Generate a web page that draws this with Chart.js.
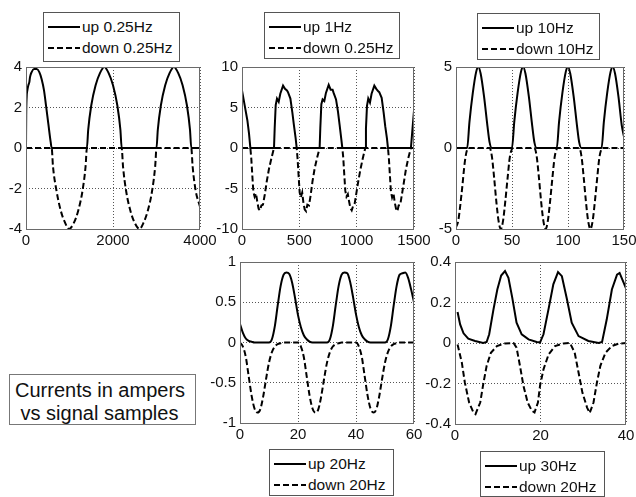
<!DOCTYPE html>
<html>
<head>
<meta charset="utf-8">
<script src="https://cdn.jsdelivr.net/npm/chart.js@4.4.0/dist/chart.umd.min.js"></script>
<style>
  html, body { margin: 0; padding: 0; background: #fff; }
  #page { position: relative; width: 636px; height: 497px; overflow: hidden; background: #fff; }
  canvas { position: absolute; left: -40px; top: 0; }
  .box { position: absolute; border: 1px solid #555; background: #fff; box-sizing: border-box;
         font-family: "Liberation Sans", Arial, sans-serif; color: #111; }
  .leg { font-size: 15.5px; }
  .row { position: absolute; left: 0; height: 20px; white-space: pre; }
  .row svg { position: absolute; left: 4px; top: 0; }
  .row span { position: absolute; left: 38px; top: 1px; line-height: 18px; }
  .note { font-size: 20px; line-height: 22.6px; white-space: pre; padding: 4px 0 0 5px; border-color: #777; }
</style>
</head>
<body>
<div id="page">
  <canvas id="c1" width="676" height="497"></canvas>
  <canvas id="c2" width="676" height="497"></canvas>
  <canvas id="c3" width="676" height="497"></canvas>
  <canvas id="c4" width="676" height="497"></canvas>
  <canvas id="c5" width="676" height="497"></canvas>
</div>
<script>
// ---------------- data ----------------
// Plot 1: up 0.25Hz / down 0.25Hz
const p1XTicks = [0, 2000, 4000];
const p1YTicks = [-4, -2, 0, 2, 4];
const p1UpX = [0, 5, 15, 31, 54, 77, 92, 130, 184, 245, 306, 360, 414, 460, 513, 567, 590, 1400, 1430, 1500, 1600, 1700, 1800, 1900, 2000, 2100, 2170, 2200, 3000, 3030, 3100, 3200, 3300, 3400, 3500, 3600, 3700, 3770, 3800, 4000];
const p1Up = [0, 1.6, 2.5, 2.85, 3.1, 3.25, 3.5, 3.75, 3.9, 3.9, 3.75, 3.4, 2.85, 2.1, 1.2, 0.3, 0, 0, 0.9, 2.1, 3.1, 3.7, 4.0, 3.7, 3.1, 2.1, 0.9, 0, 0, 0.9, 2.1, 3.1, 3.7, 4.0, 3.7, 3.1, 2.1, 0.9, 0, 0];
const p1DownX = [0, 590, 620, 700, 800, 900, 990, 1100, 1200, 1300, 1370, 1400, 2200, 2230, 2300, 2400, 2500, 2610, 2700, 2800, 2900, 2970, 3000, 3800, 3830, 3900, 4000];
const p1Down = [0, 0, -0.9, -2.1, -3.1, -3.7, -4.0, -3.7, -3.1, -2.1, -0.9, 0, 0, -0.9, -2.1, -3.1, -3.7, -4.0, -3.7, -3.1, -2.1, -0.9, 0, 0, -0.9, -2.1, -2.9];

// Plot 2: up 1Hz / down 0.25Hz
const p2XTicks = [0, 500, 1000, 1500];
const p2YTicks = [-10, -5, 0, 5, 10];
const p2UpX = [0, 23, 47, 61, 73,
  279, 285, 294, 305, 320, 334, 358, 375, 392, 401, 422, 439, 453, 468, 477,
  677, 683, 692, 703, 718, 732, 756, 773, 790, 799, 820, 837, 851, 866, 875,
  1075, 1081, 1090, 1101, 1116, 1130, 1154, 1171, 1188, 1197, 1218, 1235, 1249, 1264, 1273,
  1473, 1487, 1500];
const p2Up = [7.1, 5.3, 3.4, 1.8, 0,
  0, 2.4, 5.3, 6.1, 5.7, 6.7, 7.7, 7.3, 7.1, 6.9, 6.1, 4.4, 2.8, 1.2, 0,
  0, 2.5, 5.4, 6.0, 5.8, 6.8, 7.8, 7.2, 7.2, 6.8, 6.0, 4.5, 2.9, 1.1, 0,
  0, 2.4, 5.2, 6.1, 5.6, 6.7, 7.7, 7.3, 7.0, 6.9, 6.2, 4.4, 2.7, 1.2, 0,
  0, 2.4, 4.6];
const p2DownX = [0,
  73, 81, 90, 99, 110, 122, 134, 145, 157, 169, 183, 198, 215, 235, 256, 279,
  477, 485, 494, 503, 513, 525, 536, 547, 559, 570, 584, 598, 615, 634, 655, 677,
  875, 883, 892, 901, 911, 923, 934, 945, 957, 968, 982, 996, 1013, 1032, 1053, 1075,
  1273, 1281, 1290, 1299, 1309, 1321, 1332, 1343, 1355, 1366, 1380, 1394, 1411, 1430, 1451, 1473,
  1500];
const p2Down = [0,
  0, -1.3, -3.4, -5.4, -6.0, -5.6, -6.7, -7.5, -7.7, -7.1, -7.0, -5.8, -4.2, -2.6, -1.3, 0,
  0, -1.4, -3.5, -5.5, -6.1, -5.5, -6.8, -7.6, -7.8, -7.0, -7.1, -5.9, -4.1, -2.5, -1.2, 0,
  0, -1.2, -3.3, -5.3, -6.0, -5.7, -6.6, -7.4, -7.7, -7.2, -6.9, -5.7, -4.2, -2.7, -1.3, 0,
  0, -1.3, -3.4, -5.4, -6.1, -5.6, -6.7, -7.5, -7.8, -7.1, -7.0, -5.8, -4.3, -2.6, -1.2, 0,
  0];

// Plot 3: up 10Hz / down 10Hz
const p3XTicks = [0, 50, 100, 150];
const p3YTicks = [-5, 0, 5];
const p3UpX = [0, 10, 12, 15, 18, 20, 22, 25, 28, 30, 32, 50, 52, 55, 58, 60, 62, 65, 68, 70, 72, 90, 92, 95, 98, 100, 102, 105, 108, 110, 112, 130, 132, 135, 138, 140, 142, 145, 148, 150];
const p3Up = [0, 0, 1.6, 3.4, 4.7, 5.0, 4.6, 3.2, 1.4, 0.35, 0, 0, 1.6, 3.4, 4.7, 5.0, 4.6, 3.2, 1.4, 0.35, 0, 0, 1.6, 3.4, 4.7, 5.0, 4.6, 3.2, 1.4, 0.35, 0, 0, 1.6, 3.4, 4.7, 5.0, 4.6, 3.2, 1.4, 0.7];
const p3DownX = [0, 2, 5, 8, 10, 12, 30, 32, 34, 36, 38, 40, 42, 44, 46, 48, 50, 51, 70, 72, 74, 76, 78, 80, 82, 84, 86, 88, 90, 91, 110, 112, 114, 116, 118, 120, 122, 124, 126, 128, 130, 131, 150];
const p3Down = [-4.9, -4.5, -2.8, -0.8, -0.1, 0, 0, -0.5, -1.8, -3.3, -4.5, -5.0, -4.5, -3.3, -1.9, -0.6, -0.05, 0, 0, -0.5, -1.8, -3.3, -4.5, -5.0, -4.5, -3.3, -1.9, -0.6, -0.05, 0, 0, -0.5, -1.8, -3.3, -4.5, -5.0, -4.5, -3.3, -1.9, -0.6, -0.05, 0, 0];

// Plot 4: up 20Hz / down 20Hz
const p4XTicks = [0, 20, 40, 60];
const p4YTicks = [-1, -0.5, 0, 0.5, 1];
const p4X = [0, 1, 2, 3, 4, 5, 6, 7, 8, 9, 10, 11, 12, 13, 14, 15, 16, 17, 18, 19, 20, 21, 22, 23, 24, 25, 26, 27, 28, 29, 30, 31, 32, 33, 34, 35, 36, 37, 38, 39, 40, 41, 42, 43, 44, 45, 46, 47, 48, 49, 50, 51, 52, 53, 54, 55, 56, 57, 58, 59, 60];
const p4Up = [0.23, 0.12, 0.05, 0.02, 0.01, 0, 0, 0, 0, 0,
  0, 0.04, 0.2, 0.46, 0.7, 0.84, 0.87, 0.85, 0.74, 0.55,
  0.34, 0.19, 0.09, 0.04, 0.01, 0, 0, 0, 0, 0,
  0, 0.04, 0.2, 0.46, 0.7, 0.84, 0.87, 0.86, 0.75, 0.56,
  0.35, 0.19, 0.09, 0.04, 0.01, 0, 0, 0, 0, 0,
  0, 0.04, 0.2, 0.46, 0.7, 0.84, 0.86, 0.87, 0.8, 0.66,
  0.5];
const p4Down = [0, -0.05, -0.18, -0.42, -0.66, -0.82, -0.87, -0.83, -0.67, -0.45,
  -0.25, -0.12, -0.05, -0.02, -0.01, 0, 0, 0, 0, 0,
  0, -0.05, -0.18, -0.42, -0.66, -0.82, -0.87, -0.83, -0.67, -0.45,
  -0.25, -0.12, -0.05, -0.02, -0.01, 0, 0, 0, 0, 0,
  0, -0.05, -0.18, -0.42, -0.66, -0.82, -0.87, -0.83, -0.67, -0.45,
  -0.25, -0.12, -0.05, -0.02, -0.01, 0, 0, 0, 0, 0,
  0];

// Plot 5: up 30Hz / down 20Hz
const p5XTicks = [0, 20, 40];
const p5YTicks = [-0.4, -0.2, 0, 0.2, 0.4];
const p5UpX = [0.6, 1.2, 2.0, 3.1, 4.7, 6.6, 7.4, 8.0, 9.0, 9.9, 10.8, 11.7, 12.5, 13.4, 14.4, 15.6, 17.2, 19.1, 19.9, 20.7, 21.9, 23.0, 24.1, 25.0, 26.2, 27.3, 28.9, 31.2, 33.6, 34.4, 35.5, 36.7, 37.9, 38.5, 39.2, 40];
const p5Up = [0.153, 0.092, 0.048, 0.021, 0.01, 0.0, 0.005, 0.043, 0.166, 0.264, 0.333, 0.355, 0.322, 0.223, 0.1, 0.043, 0.018, 0.005, 0.003, 0.043, 0.17, 0.29, 0.35, 0.33, 0.215, 0.1, 0.034, 0.01, 0.0, 0.005, 0.117, 0.264, 0.338, 0.346, 0.31, 0.27];
const p5DownX = [0.6, 1.6, 2.3, 3.3, 4.3, 4.8, 5.9, 6.6, 7.4, 8.4, 9.8, 11.7, 13.7, 14.4, 15.2, 16.0, 17.0, 18.0, 18.6, 19.4, 19.9, 20.7, 21.9, 23.4, 25.4, 26.9, 28.0, 28.9, 29.8, 30.9, 31.5, 32.4, 33.2, 34.0, 35.2, 36.7, 38.3, 40];
const p5Down = [-0.007, -0.097, -0.195, -0.294, -0.343, -0.351, -0.294, -0.204, -0.113, -0.048, -0.015, -0.002, 0, -0.023, -0.113, -0.21, -0.294, -0.335, -0.343, -0.294, -0.21, -0.13, -0.056, -0.015, -0.002, 0, -0.048, -0.146, -0.245, -0.319, -0.346, -0.294, -0.195, -0.113, -0.048, -0.015, -0.003, 0];

// Legend labels and caption
const legendLabels = [
  ["up 0.25Hz", "down 0.25Hz"],
  ["up 1Hz", "down 0.25Hz"],
  ["up 10Hz", "down 10Hz"],
  ["up 20Hz", "down 20Hz"],
  ["up 30Hz", "down 20Hz"]
];
const captionLines = ["Currents in ampers", " vs signal samples"];

// ---------------- drawing ----------------
const OFF = 40;                 // canvases start 40px left of the page
const W = 636 + OFF, H = 497, YW = 40, XH = 24;
const FONT = { family: "'Liberation Sans', Arial, sans-serif", size: 15 };

function fmt(v) { return String(Math.round(v * 1000) / 1000); }
function pts(xs, ys) { return xs.map((x, i) => ({ x: x, y: ys[i] })); }

const boxPlugin = {
  id: 'box',
  afterDraw(chart) {
    const a = chart.chartArea, ctx = chart.ctx;
    ctx.save();
    ctx.strokeStyle = '#6a6a6a';
    ctx.lineWidth = 1;
    ctx.setLineDash([]);
    ctx.strokeRect(Math.round(a.left) + 0.5, Math.round(a.top) + 0.5,
                   Math.round(a.right - a.left) - 1, Math.round(a.bottom - a.top));
    ctx.restore();
  }
};

function makeChart(id, area, xTicks, yTicks, upX, upY, downX, downY, smooth) {
  const mode = smooth ? 'monotone' : 'default';
  const L = area.L + OFF, R = area.R + OFF;
  new Chart(document.getElementById(id), {
    type: 'line',
    data: {
      datasets: [
        { data: pts(upX, upY), borderColor: '#000', borderWidth: 2, pointRadius: 0,
          cubicInterpolationMode: mode, fill: false },
        { data: pts(downX, downY), borderColor: '#000', borderWidth: 2, pointRadius: 0,
          borderDash: [6, 3], cubicInterpolationMode: mode, fill: false }
      ]
    },
    options: {
      responsive: false, animation: false, devicePixelRatio: 1,
      events: [],
      layout: { padding: { left: L - YW, top: area.T, right: W - R, bottom: H - area.B - XH } },
      plugins: { legend: { display: false }, tooltip: { enabled: false } },
      scales: {
        x: {
          type: 'linear', min: xTicks[0], max: xTicks[xTicks.length - 1],
          afterBuildTicks: s => { s.ticks = xTicks.map(v => ({ value: v })); },
          afterFit: s => { s.height = XH; s.paddingLeft = 0; s.paddingRight = 0; },
          ticks: { autoSkip: false, maxRotation: 0, minRotation: 0, padding: 3, color: '#111', font: FONT, callback: v => fmt(v) },
          grid: { color: '#555', lineWidth: 1, drawTicks: false },
          border: { display: false, dash: [1, 2] }
        },
        y: {
          type: 'linear', min: yTicks[0], max: yTicks[yTicks.length - 1],
          afterBuildTicks: s => { s.ticks = yTicks.map(v => ({ value: v })); },
          afterFit: s => { s.width = YW; s.paddingTop = 0; s.paddingBottom = 0; },
          ticks: { autoSkip: false, padding: 4, color: '#111', font: FONT, callback: v => fmt(v) },
          grid: { color: '#555', lineWidth: 1, drawTicks: false },
          border: { display: false, dash: [1, 2] }
        }
      }
    },
    plugins: [boxPlugin]
  });
}

makeChart('c1', { L: 26, T: 67, R: 200, B: 229 }, p1XTicks, p1YTicks, p1UpX, p1Up, p1DownX, p1Down, true);
makeChart('c2', { L: 242, T: 67, R: 414, B: 229 }, p2XTicks, p2YTicks, p2UpX, p2Up, p2DownX, p2Down, false);
makeChart('c3', { L: 456, T: 67, R: 624, B: 229 }, p3XTicks, p3YTicks, p3UpX, p3Up, p3DownX, p3Down, true);
makeChart('c4', { L: 240, T: 262, R: 414, B: 423 }, p4XTicks, p4YTicks, p4X, p4Up, p4X, p4Down, true);
makeChart('c5', { L: 455, T: 262, R: 626, B: 424 }, p5XTicks, p5YTicks, p5UpX, p5Up, p5DownX, p5Down, false);

// HTML legends
const page = document.getElementById('page');
const legendBoxes = [
  { left: 43, top: 12, width: 137, height: 50 },
  { left: 264, top: 12, width: 136, height: 47 },
  { left: 477, top: 13, width: 123, height: 47 },
  { left: 269, top: 449, width: 125, height: 47 },
  { left: 480, top: 451, width: 125, height: 46 }
];
legendBoxes.forEach((b, i) => {
  const d = document.createElement('div');
  d.className = 'box leg';
  Object.assign(d.style, { left: b.left + 'px', top: b.top + 'px', width: b.width + 'px', height: b.height + 'px' });
  legendLabels[i].forEach((lab, j) => {
    const r = document.createElement('div');
    r.className = 'row';
    r.style.top = (4 + j * 20.5) + 'px';
    const dash = j === 1 ? ' stroke-dasharray="6 3"' : '';
    r.innerHTML = '<svg width="32" height="20"><line x1="0" y1="10" x2="32" y2="10" stroke="#000" stroke-width="2"' + dash + '/></svg><span></span>';
    r.querySelector('span').textContent = lab;
    d.appendChild(r);
  });
  page.appendChild(d);
});

// caption box
const cap = document.createElement('div');
cap.className = 'box note';
Object.assign(cap.style, { left: '9px', top: '374px', width: '187px', height: '51px' });
cap.textContent = captionLines.join('\n');
page.appendChild(cap);
</script>
</body>
</html>
